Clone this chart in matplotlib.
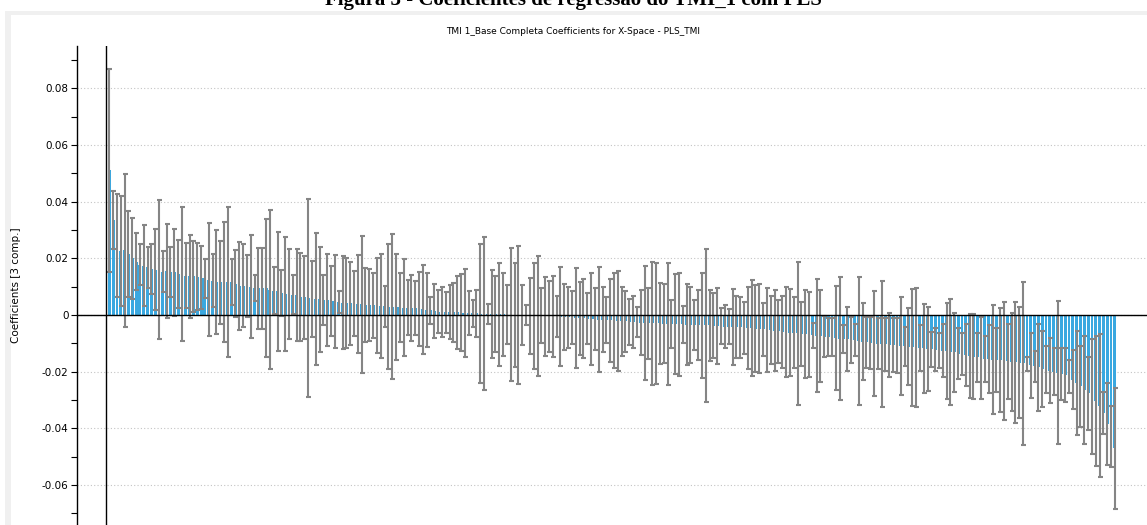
import numpy as np
import matplotlib
matplotlib.use("Agg")
import matplotlib.pyplot as plt
from matplotlib import patches
from matplotlib.ticker import MultipleLocator, FuncFormatter

# ==== Data: PLS coefficients (3 comp.) sorted, with jack-knife CI half widths ====
coefficients = [
    0.0510, 0.0335, 0.0245, 0.0226, 0.0228, 0.0215, 0.0200, 0.0188, 0.0178, 0.0173,
    0.0168, 0.0162, 0.0160, 0.0160, 0.0153, 0.0154, 0.0152, 0.0150, 0.0144, 0.0145,
    0.0139, 0.0136, 0.0136, 0.0135, 0.0131, 0.0129, 0.0125, 0.0121, 0.0116, 0.0115,
    0.0115, 0.0116, 0.0115, 0.0111, 0.0102, 0.0103, 0.0102, 0.0100, 0.0096, 0.0095,
    0.0095, 0.0095, 0.0089,
    0.0086, 0.0083, 0.0078, 0.0074, 0.0073, 0.0072, 0.0070, 0.0064, 0.0062, 0.0060,
    0.0058, 0.0056, 0.0055, 0.0053, 0.0052, 0.0049, 0.0048, 0.0046, 0.0044, 0.0042,
    0.0041, 0.0041, 0.0039, 0.0038, 0.0036, 0.0035, 0.0034, 0.0033, 0.0032, 0.0030,
    0.0029, 0.0029, 0.0028, 0.0027, 0.0026, 0.0026, 0.0025, 0.0024, 0.0022, 0.0020,
    0.0018, 0.0016, 0.0014, 0.0012, 0.0011,
    0.0010, 0.0010, 0.0009, 0.0009, 0.0008, 0.0008, 0.0007, 0.0006, 0.0006, 0.0005,
    0.0005, 0.0004, 0.0003, 0.0003, 0.0002, 0.0002, 0.0001, 0.0001, 0.0000, 0.0000,
    -0.0001, -0.0001, -0.0002, -0.0002, -0.0003, -0.0003, -0.0004, -0.0004, -0.0005, -0.0005,
    -0.0006, -0.0007, -0.0008, -0.0009, -0.0010, -0.0011, -0.0012, -0.0013, -0.0014, -0.0015,
    -0.0016, -0.0017, -0.0018, -0.0019, -0.0020,
    -0.0021, -0.0022, -0.0023, -0.0024, -0.0025, -0.0026, -0.0027, -0.0028, -0.0029, -0.0029,
    -0.0030, -0.0030, -0.0031, -0.0031, -0.0032, -0.0032, -0.0033, -0.0033, -0.0034, -0.0035,
    -0.0035, -0.0036, -0.0036, -0.0037, -0.0037, -0.0038, -0.0039, -0.0040, -0.0041, -0.0041,
    -0.0042, -0.0043, -0.0044, -0.0045, -0.0046, -0.0047, -0.0048, -0.0049, -0.0050, -0.0052,
    -0.0053, -0.0055, -0.0057, -0.0059, -0.0061,
    -0.0062, -0.0063, -0.0065, -0.0066, -0.0068, -0.0069, -0.0071, -0.0073, -0.0075, -0.0077,
    -0.0078, -0.0079, -0.0081, -0.0083, -0.0085, -0.0086, -0.0087, -0.0088, -0.0091, -0.0094,
    -0.0097, -0.0099, -0.0100, -0.0101, -0.0102, -0.0104, -0.0106, -0.0107, -0.0108, -0.0109,
    -0.0111, -0.0112, -0.0114, -0.0116, -0.0117, -0.0118, -0.0120, -0.0121, -0.0123, -0.0124,
    -0.0126, -0.0128, -0.0130, -0.0132,
    -0.0136, -0.0138, -0.0141, -0.0145, -0.0147, -0.0150, -0.0152, -0.0154, -0.0156, -0.0158,
    -0.0159, -0.0160, -0.0162, -0.0164, -0.0165, -0.0167, -0.0168, -0.0170, -0.0173, -0.0177,
    -0.0181, -0.0185, -0.0189, -0.0193, -0.0196, -0.0200, -0.0203, -0.0207, -0.0212, -0.0218,
    -0.0228, -0.0240, -0.0252, -0.0265, -0.0276, -0.0289, -0.0303, -0.0320, -0.0345, -0.0385,
    -0.0428, -0.0470,
]

ci_half = [
    0.0357, 0.0103, 0.0181, 0.0193, 0.0269, 0.0153, 0.0142, 0.0100, 0.0072, 0.0143,
    0.0073, 0.0088, 0.0143, 0.0245, 0.0073, 0.0166, 0.0087, 0.0153, 0.0121, 0.0236,
    0.0116, 0.0145, 0.0125, 0.0119, 0.0111, 0.0068, 0.0199, 0.0094, 0.0184, 0.0146,
    0.0212, 0.0265, 0.0081, 0.0119, 0.0155, 0.0147, 0.0110, 0.0181, 0.0045, 0.0143,
    0.0143, 0.0242, 0.0280,
    0.0084, 0.0211, 0.0081, 0.0202, 0.0159, 0.0069, 0.0162, 0.0156, 0.0146, 0.0348,
    0.0134, 0.0232, 0.0186, 0.0088, 0.0163, 0.0124, 0.0164, 0.0039, 0.0164, 0.0158,
    0.0147, 0.0115, 0.0173, 0.0242, 0.0131, 0.0126, 0.0115, 0.0167, 0.0183, 0.0073,
    0.0220, 0.0256, 0.0187, 0.0122, 0.0170, 0.0097, 0.0116, 0.0095, 0.0131, 0.0156,
    0.0131, 0.0047, 0.0094, 0.0076, 0.0089,
    0.0072, 0.0096, 0.0105, 0.0129, 0.0135, 0.0155, 0.0078, 0.0047, 0.0082, 0.0245,
    0.0271, 0.0035, 0.0156, 0.0135, 0.0183, 0.0147, 0.0105, 0.0234, 0.0182, 0.0243,
    0.0106, 0.0036, 0.0134, 0.0187, 0.0211, 0.0097, 0.0139, 0.0125, 0.0143, 0.0072,
    0.0175, 0.0116, 0.0108, 0.0094, 0.0176, 0.0129, 0.0140, 0.0089, 0.0161, 0.0109,
    0.0185, 0.0115, 0.0080, 0.0147, 0.0167,
    0.0175, 0.0122, 0.0108, 0.0082, 0.0093, 0.0053, 0.0115, 0.0201, 0.0125, 0.0217,
    0.0215, 0.0142, 0.0139, 0.0216, 0.0085, 0.0175, 0.0182, 0.0065, 0.0142, 0.0135,
    0.0088, 0.0124, 0.0185, 0.0271, 0.0125, 0.0114, 0.0135, 0.0064, 0.0076, 0.0061,
    0.0135, 0.0110, 0.0109, 0.0091, 0.0146, 0.0170, 0.0154, 0.0157, 0.0094, 0.0148,
    0.0121, 0.0143, 0.0111, 0.0127, 0.0159,
    0.0154, 0.0125, 0.0253, 0.0113, 0.0156, 0.0150, 0.0044, 0.0200, 0.0163, 0.0073,
    0.0066, 0.0067, 0.0184, 0.0217, 0.0050, 0.0113, 0.0081, 0.0056, 0.0225, 0.0135,
    0.0089, 0.0091, 0.0185, 0.0089, 0.0222, 0.0092, 0.0114, 0.0095, 0.0096, 0.0174,
    0.0070, 0.0136, 0.0206, 0.0210, 0.0082, 0.0157, 0.0147, 0.0062, 0.0076, 0.0062,
    0.0094, 0.0169, 0.0188, 0.0140,
    0.0089, 0.0073, 0.0109, 0.0149, 0.0151, 0.0088, 0.0146, 0.0081, 0.0121, 0.0193,
    0.0112, 0.0184, 0.0209, 0.0132, 0.0173, 0.0213, 0.0195, 0.0288, 0.0026, 0.0115,
    0.0054, 0.0153, 0.0134, 0.0084, 0.0114, 0.0082, 0.0252, 0.0092, 0.0094, 0.0059,
    0.0105, 0.0184, 0.0143, 0.0191, 0.0129, 0.0203, 0.0229, 0.0252, 0.0075, 0.0146,
    0.0107, 0.0214,
]

caption = "Figura 3 - Coeficientes de regressão do TMI_1 com PLS"
plot_title = "TMI 1_Base Completa Coefficients for X-Space - PLS_TMI"
y_label = "Coefficients [3 comp.]"

BAR_COLOR = "#3aa8e0"
ERR_COLOR = "#858585"

W, H = 1147, 525
fig = plt.figure(figsize=(W / 100, H / 100), dpi=100)
fig.patch.set_facecolor("white")

# ==== Window frame (light grey border around the plot panel) ====
frame = patches.Rectangle((5 / W, 0), 1 - 5 / W, 1 - 11 / H, transform=fig.transFigure,
                          facecolor="#f0f0f0", edgecolor="none", zorder=-10)
panel = patches.Rectangle((11 / W, 0), 1 - 11 / W, 1 - 15 / H, transform=fig.transFigure,
                          facecolor="white", edgecolor="none", zorder=-9)
fig.patches.extend([frame, panel])

# caption of the document, cut by the page edge
fig.text(0.5, 1 - 5 / H, caption, ha="center", va="baseline",
         fontsize=15, fontweight="bold", family="Liberation Serif")

fig.text(573 / W, 1 - 32 / H, plot_title, ha="center", va="center", fontsize=6.5)

# ==== Coefficient plot ====
ax = fig.add_axes([77 / W, 0, 1 - 77 / W, (H - 46) / H])
ax.set_facecolor("none")
positions = np.arange(1, len(coefficients) + 1)

ax.bar(positions, coefficients, width=0.75, color=BAR_COLOR, zorder=2)
ax.errorbar(positions, coefficients, yerr=ci_half, fmt="none", ecolor=ERR_COLOR,
            elinewidth=1.5, capsize=1.8, capthick=1.5, zorder=3)

ax.axhline(0, color="black", lw=1.0, zorder=4)
ax.axvline(0.2, color="black", lw=1.0, zorder=4)

ax.set_xlim(-7.45, 272.4)
ax.set_ylim(-0.0741, 0.0949)

ax.yaxis.set_major_locator(MultipleLocator(0.02))
ax.yaxis.set_minor_locator(MultipleLocator(0.01))
ax.yaxis.set_major_formatter(FuncFormatter(lambda v, _: "0" if abs(v) < 1e-9 else f"{v:.2f}"))
ax.tick_params(axis="y", which="both", length=4, width=0.8, direction="out",
               labelsize=7.5, pad=2)
ax.set_xticks([])
ax.yaxis.grid(True, which="major", linestyle=(0, (1, 2)), color="#c4c4c4", lw=0.8, zorder=0)

for side in ("top", "right", "bottom"):
    ax.spines[side].set_visible(False)
ax.spines["left"].set_linewidth(1.0)

ax.set_ylabel(y_label, fontsize=7.5)
ax.yaxis.set_label_coords(-(77 - 21) / (W - 77), 0.5)

fig.savefig("out.png", dpi=100)
